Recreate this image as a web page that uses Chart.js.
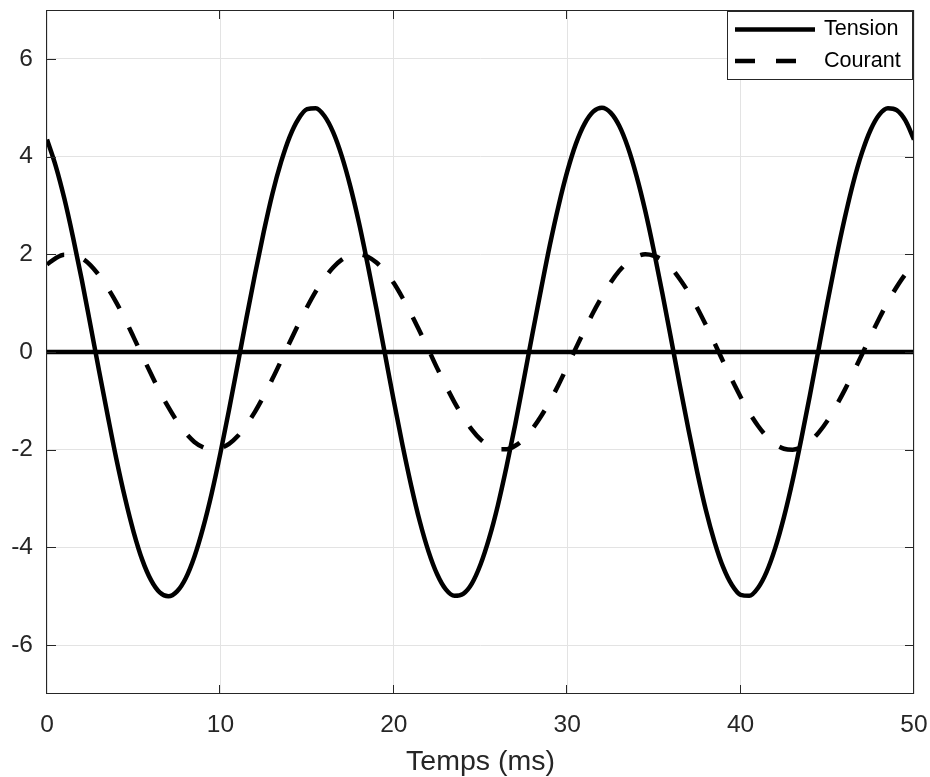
<!DOCTYPE html>
<html lang="fr">
<head>
<meta charset="utf-8">
<title>Tension / Courant</title>
<script src="https://cdn.jsdelivr.net/npm/chart.js@4.4.1/dist/chart.umd.min.js"></script>
<style>
    html, body { margin: 0; padding: 0; background: #fff; }
    canvas { display: block; }
</style>
</head>
<body>
<canvas id="chart" width="930" height="777"></canvas>
<script>
// ==========================
// DATA (every 0.5 ms)
// ==========================

const times = [
    0, 0.5, 1, 1.5, 2, 2.5, 3, 3.5, 4, 4.5,
    5, 5.5, 6, 6.5, 7, 7.5, 8, 8.5, 9, 9.5,
    10, 10.5, 11, 11.5, 12, 12.5, 13, 13.5, 14, 14.5,
    15, 15.5, 16, 16.5, 17, 17.5, 18, 18.5, 19, 19.5,
    20, 20.5, 21, 21.5, 22, 22.5, 23, 23.5, 24, 24.5,
    25, 25.5, 26, 26.5, 27, 27.5, 28, 28.5, 29, 29.5,
    30, 30.5, 31, 31.5, 32, 32.5, 33, 33.5, 34, 34.5,
    35, 35.5, 36, 36.5, 37, 37.5, 38, 38.5, 39, 39.5,
    40, 40.5, 41, 41.5, 42, 42.5, 43, 43.5, 44, 44.5,
    45, 45.5, 46, 46.5, 47, 47.5, 48, 48.5, 49, 49.5,
    50
];

const tension = [
    4.35, 3.81, 3.14, 2.35, 1.49, 0.56, -0.38, -1.30, -2.19, -2.99,
    -3.69, -4.26, -4.67, -4.92, -5.00, -4.90, -4.63, -4.19, -3.60, -2.89,
    -2.07, -1.18, -0.25, 0.69, 1.60, 2.46, 3.24, 3.89, 4.41, 4.77,
    4.97, 4.99, 4.83, 4.50, 4.01, 3.38, 2.63, 1.78, 0.88, -0.06,
    -1.00, -1.90, -2.73, -3.47, -4.08, -4.55, -4.86, -4.99, -4.95, -4.74,
    -4.35, -3.81, -3.14, -2.35, -1.49, -0.56, 0.38, 1.30, 2.19, 2.99,
    3.69, 4.26, 4.67, 4.92, 5.00, 4.90, 4.63, 4.19, 3.60, 2.89,
    2.07, 1.18, 0.25, -0.69, -1.60, -2.46, -3.24, -3.89, -4.41, -4.77,
    -4.97, -4.99, -4.83, -4.50, -4.01, -3.38, -2.63, -1.78, -0.88, 0.06,
    1.00, 1.90, 2.73, 3.47, 4.08, 4.55, 4.86, 4.99, 4.95, 4.74,
    4.35
];

const courant = [
    1.79, 1.92, 1.99, 1.99, 1.92, 1.78, 1.57, 1.31, 1.01, 0.67,
    0.30, -0.08, -0.45, -0.81, -1.13, -1.42, -1.66, -1.84, -1.95, -2.00,
    -1.97, -1.88, -1.72, -1.49, -1.22, -0.90, -0.55, -0.18, 0.20, 0.57,
    0.92, 1.24, 1.51, 1.73, 1.89, 1.98, 2.00, 1.95, 1.83, 1.65,
    1.41, 1.11, 0.78, 0.42, 0.05, -0.33, -0.69, -1.03, -1.33, -1.59,
    -1.79, -1.92, -1.99, -1.99, -1.92, -1.78, -1.57, -1.31, -1.01, -0.67,
    -0.30, 0.08, 0.45, 0.81, 1.13, 1.42, 1.66, 1.84, 1.95, 2.00,
    1.97, 1.88, 1.72, 1.49, 1.22, 0.90, 0.55, 0.18, -0.20, -0.57,
    -0.92, -1.24, -1.51, -1.73, -1.89, -1.98, -2.00, -1.95, -1.83, -1.65,
    -1.41, -1.11, -0.78, -0.42, -0.05, 0.33, 0.69, 1.03, 1.33, 1.59,
    1.79
];

// horizontal reference line at 0 (not in the legend)
const zeroLine = [0, 0];
const zeroLineX = [0, 50];

const xTicks = [0, 10, 20, 30, 40, 50];
const yTicks = [-6, -4, -2, 0, 2, 4, 6];

const FONT = "'Liberation Sans', Arial, Helvetica, sans-serif";
const AXIS_COLOR = "#262626";
const GRID_COLOR = "#e3e3e3";

const ctx = document.getElementById("chart").getContext("2d");

function toPoints(xs, ys) {
    return xs.map((x, i) => ({ x: x, y: ys[i] }));
}

// chart.js pads the plot for the end labels, matlab doesn't -> kill it
function noAutoPadding(s) {
    s.paddingTop = 0;
    s.paddingBottom = 0;
    s.paddingLeft = 0;
    s.paddingRight = 0;
}

// ==========================
// PLUGINS: matlab style box + inward ticks, legend in the corner
// ==========================

const framePlugin = {
    id: "frame",
    afterDatasetsDraw(chart) {
        const { ctx, chartArea: a, scales } = chart;
        const tl = 9;
        ctx.save();
        ctx.strokeStyle = AXIS_COLOR;
        ctx.lineWidth = 1;
        ctx.strokeRect(a.left - 0.5, a.top + 0.5, a.right - a.left, a.bottom - a.top - 1);

        ctx.beginPath();
        xTicks.forEach(v => {
            const x = Math.round(scales.x.getPixelForValue(v)) - 0.5;
            ctx.moveTo(x, a.bottom);
            ctx.lineTo(x, a.bottom - tl);
            ctx.moveTo(x, a.top);
            ctx.lineTo(x, a.top + tl);
        });
        yTicks.forEach(v => {
            const y = Math.round(scales.y.getPixelForValue(v)) + 0.5;
            ctx.moveTo(a.left, y);
            ctx.lineTo(a.left + tl, y);
            ctx.moveTo(a.right, y);
            ctx.lineTo(a.right - tl, y);
        });
        ctx.stroke();
        ctx.restore();
    }
};

const legendPlugin = {
    id: "cornerLegend",
    afterDraw(chart) {
        const ctx = chart.ctx;
        const items = chart.data.datasets.filter(d => d.inLegend);
        const box = { left: 727, top: 11, width: 186, height: 69 };
        const rows = [29.5, 61];

        ctx.save();
        ctx.fillStyle = "#fff";
        ctx.fillRect(box.left, box.top, box.width, box.height);
        ctx.strokeStyle = AXIS_COLOR;
        ctx.lineWidth = 1;
        ctx.strokeRect(box.left + 0.5, box.top + 0.5, box.width - 1, box.height - 1);

        items.forEach((d, i) => {
            const y = rows[i];
            ctx.beginPath();
            ctx.strokeStyle = d.borderColor;
            ctx.lineWidth = d.borderWidth;
            ctx.setLineDash(d.borderDash || []);
            ctx.moveTo(735, y);
            ctx.lineTo(815, y);
            ctx.stroke();
            ctx.setLineDash([]);

            ctx.fillStyle = "#000";
            ctx.font = "21.6px " + FONT;
            ctx.textBaseline = "middle";
            ctx.textAlign = "left";
            ctx.fillText(d.label, 824, y);
        });
        ctx.restore();
    }
};

// ==========================
// CHART
// ==========================

new Chart(ctx, {
    type: "line",
    data: {
        datasets: [
            {
                label: "Tension",
                inLegend: true,
                data: toPoints(times, tension),
                borderColor: "#000",
                borderWidth: 4.5,
                pointRadius: 0,
                cubicInterpolationMode: "monotone",
                fill: false
            },
            {
                label: "Courant",
                inLegend: true,
                data: toPoints(times, courant),
                borderColor: "#000",
                borderWidth: 4.5,
                borderDash: [20, 21],
                pointRadius: 0,
                cubicInterpolationMode: "monotone",
                fill: false
            },
            {
                label: "zero",
                inLegend: false,
                data: toPoints(zeroLineX, zeroLine),
                borderColor: "#000",
                borderWidth: 4.5,
                pointRadius: 0,
                fill: false
            }
        ]
    },
    options: {
        responsive: false,
        animation: false,
        devicePixelRatio: 1,
        layout: {
            autoPadding: false,
            padding: { top: 10, right: 16, left: 0, bottom: 0 }
        },
        plugins: {
            legend: { display: false },
            tooltip: { enabled: false }
        },
        scales: {
            x: {
                type: "linear",
                min: 0,
                max: 50,
                afterBuildTicks: s => { s.ticks = xTicks.map(v => ({ value: v })); },
                afterFit: s => { s.height = 83; noAutoPadding(s); },
                grid: { color: GRID_COLOR, drawTicks: false },
                border: { display: false },
                ticks: {
                    color: AXIS_COLOR,
                    font: { family: FONT, size: 24.5 },
                    padding: 17,
                    maxRotation: 0
                },
                title: {
                    display: true,
                    text: "Temps (ms)",
                    color: AXIS_COLOR,
                    font: { family: FONT, size: 28.5 },
                    padding: { top: 0, bottom: -2 }
                }
            },
            y: {
                type: "linear",
                min: -7,
                max: 7,
                afterBuildTicks: s => { s.ticks = yTicks.map(v => ({ value: v })); },
                afterFit: s => { s.width = 47; noAutoPadding(s); },
                grid: { color: GRID_COLOR, drawTicks: false },
                border: { display: false },
                ticks: {
                    color: AXIS_COLOR,
                    font: { family: FONT, size: 24.5 },
                    padding: 14
                }
            }
        }
    },
    plugins: [framePlugin, legendPlugin]
});
</script>
</body>
</html>
